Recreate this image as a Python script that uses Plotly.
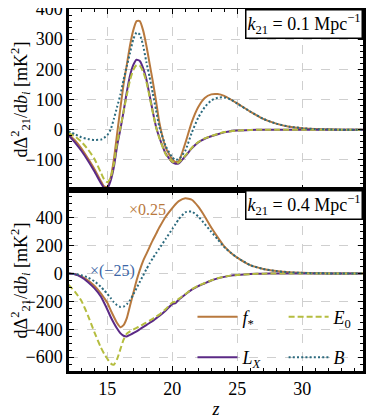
import plotly.graph_objects as go
from plotly.subplots import make_subplots

# redshift grid shared by every curve
z = [12, 12.5, 13, 13.5, 14, 14.5, 14.75, 15, 15.25, 15.5, 15.75, 16, 16.25, 16.5, 16.75,
     17, 17.25, 17.5, 17.75, 18, 18.25, 18.5, 18.75, 19, 19.5, 20, 20.25, 20.5, 21, 21.5,
     22, 22.5, 23, 23.5, 24, 24.5, 25, 26, 27, 28, 29, 30, 31, 32, 33, 34, 35]

# k21 = 0.1 Mpc^-1
fstar_k01 = [-14, -35, -62, -95, -130, -170, -188, -190, -160, -100, -15, 70, 150, 215, 280,
             330, 360, 360, 330, 280, 220, 160, 95, 25, -60, -98, -107, -105, -45, 25,
             75, 105, 117, 118, 112, 100, 87, 60, 36, 20, 10, 5, 2, 1, 0, 0, 0]
lx_k01 = [-18, -42, -70, -102, -138, -177, -193, -195, -170, -125, -55, 0, 60, 125, 180,
          215, 232, 228, 205, 168, 115, 60, 10, -25, -80, -108, -113, -112, -88, -62,
          -42, -30, -22, -15, -9, -5, -3, -1, 0, 0, 0, 0, 0, 0, 0, 0, 0]
e0_k01 = [-10, -22, -40, -65, -96, -142, -165, -174, -160, -115, -45, 5, 60, 115, 165,
          198, 214, 212, 193, 160, 110, 57, 8, -27, -82, -106, -110, -109, -86, -60,
          -41, -29, -21, -14, -8, -5, -3, -1, 0, 0, 0, 0, 0, 0, 0, 0, 0]
b_k01 = [-5, -15, -25, -31, -34, -33, -27, -18, 0, 35, 75, 115, 165, 210, 255,
         300, 322, 315, 280, 225, 175, 120, 65, 10, -55, -92, -100, -98, -70, -10,
         40, 75, 97, 106, 107, 100, 86, 60, 36, 20, 10, 5, 2, 1, 0, 0, 0]

# k21 = 0.4 Mpc^-1 (f_* scaled by 0.25, B scaled by -25)
fstar_k04 = [0, -5, -20, -48, -88, -142, -175, -210, -262, -310, -355, -385, -370, -320, -230,
             -140, -50, 25, 90, 140, 190, 240, 285, 330, 410, 470, 498, 520, 540, 530,
             480, 410, 330, 260, 195, 150, 114, 60, 33, 18, 9, 5, 2, 1, 0, 0, 0]
lx_k04 = [0, -5, -25, -60, -105, -165, -210, -258, -310, -355, -395, -428, -447, -452, -440,
          -428, -415, -400, -385, -370, -355, -340, -322, -305, -265, -220, -212, -188, -150, -115,
          -90, -70, -50, -35, -24, -15, -10, -4, -1, 0, 0, 0, 0, 0, 0, 0, 0]
e0_k04 = [-80, -130, -195, -300, -420, -530, -575, -612, -645, -655, -615, -545, -475, -432, -415,
          -402, -390, -378, -365, -352, -338, -325, -310, -295, -255, -208, -202, -182, -148, -113,
          -88, -68, -49, -34, -23, -15, -10, -4, -1, 0, 0, 0, 0, 0, 0, 0, 0]
b_k04 = [0, -3, -12, -28, -55, -95, -120, -145, -175, -205, -228, -240, -238, -220, -190,
         -150, -105, -60, -15, 30, 72, 110, 145, 180, 250, 320, 355, 390, 440, 445,
         410, 355, 300, 245, 190, 150, 114, 60, 33, 18, 9, 5, 2, 1, 0, 0, 0]

ticks_top = [-100, 0, 100, 200, 300, 400]
ticks_bot = [-600, -400, -200, 0, 200, 400]
ticks_z = [15, 20, 25, 30]

FONT = 'Liberation Serif'
BROWN = '#b8793e'
PURPLE = '#5b2a86'
OLIVE = '#b5bd3f'
TEAL = '#2b6a7e'

series = [
    ('<i>f</i><sub>*</sub>', fstar_k01, fstar_k04, BROWN, 'solid', 'legend', 'g1'),
    ('<i>L</i><sub><i>X</i></sub>', lx_k01, lx_k04, PURPLE, 'solid', 'legend', 'g2'),
    ('<i>E</i><sub>0</sub>', e0_k01, e0_k04, OLIVE, '6px,3px', 'legend2', 'g1'),
    ('<i>B</i>', b_k01, b_k04, TEAL, '2px,2.2px', 'legend2', 'g2'),
]

fig = make_subplots(rows=2, cols=1, shared_xaxes=True, vertical_spacing=0)

for name, top, bot, color, dash, leg, grp in series:
    fig.add_trace(go.Scatter(x=z, y=top, mode='lines', showlegend=False,
                             line=dict(color=color, width=2, dash=dash, shape='spline', smoothing=0.5)),
                  row=1, col=1)
    fig.add_trace(go.Scatter(x=z, y=bot, mode='lines', name=name, legend=leg, legendgroup=grp,
                             line=dict(color=color, width=2, dash=dash, shape='spline', smoothing=0.5)),
                  row=2, col=1)

axis_style = dict(
    showline=True, linewidth=2.5, linecolor='black', mirror='allticks',
    ticks='inside', ticklen=5, tickwidth=1, tickcolor='black',
    showgrid=True, gridcolor='#cfcfcf', griddash='dash', gridwidth=1,
    zeroline=False, ticklabeloverflow='allow', automargin=False,
    tickfont=dict(family=FONT, size=18, color='black'),
)

fig.update_xaxes(**axis_style, range=[12.05, 34.68], tickvals=ticks_z,
                 minor=dict(ticks='inside', ticklen=3, dtick=1, tick0=0, tickcolor='black', showgrid=False))
fig.update_xaxes(showticklabels=False, row=1, col=1)
fig.update_xaxes(title=dict(text='<i>z</i>', font=dict(family=FONT, size=18), standoff=6), row=2, col=1)

ytitle = 'd\u0394<sup>2</sup><sub>21</sub>/d<i>b<sub>i</sub></i> [mK<sup>2</sup>]'
fig.update_yaxes(**axis_style)
fig.update_yaxes(range=[-200, 400], tickvals=ticks_top,
                 minor=dict(ticks='inside', ticklen=3, dtick=20, tickcolor='black', showgrid=False),
                 title=dict(text=ytitle, font=dict(family=FONT, size=18), standoff=2), row=1, col=1)
fig.update_yaxes(range=[-700, 600], tickvals=ticks_bot,
                 minor=dict(ticks='inside', ticklen=3, dtick=50, tickcolor='black', showgrid=False),
                 title=dict(text=ytitle, font=dict(family=FONT, size=18), standoff=2), row=2, col=1)

box = dict(showarrow=False, xanchor='right', yanchor='top', x=1, y=1,
           bgcolor='white', bordercolor='black', borderwidth=1.5, borderpad=1,
           font=dict(family=FONT, size=18, color='black'))
fig.add_annotation(text='<i>k</i><sub>21</sub> = 0.1 Mpc<sup>\u22121</sup>',
                   xref='x domain', yref='y domain', **box)
fig.add_annotation(text='<i>k</i><sub>21</sub> = 0.4 Mpc<sup>\u22121</sup>',
                   xref='x2 domain', yref='y2 domain', **box)
fig.add_annotation(text='\u00d70.25', x=18.1, y=460, xref='x2', yref='y2', showarrow=False,
                   font=dict(family=FONT, size=16, color=BROWN))
fig.add_annotation(text='\u00d7(\u221225)', x=15.4, y=18, xref='x2', yref='y2', showarrow=False,
                   font=dict(family=FONT, size=16, color='#3c66a6'))

leg_style = dict(bgcolor='rgba(0,0,0,0)', borderwidth=0, orientation='v', itemwidth=40,
                 tracegroupgap=14, yanchor='top', xanchor='left',
                 font=dict(family=FONT, size=18, color='black'))
# the page puts the figure 8 px in from the top-left, so the size and margins allow for that
fig.update_layout(
    width=374, height=411,
    margin=dict(l=61, r=19, t=1, b=48, autoexpand=False),
    plot_bgcolor='white', paper_bgcolor='white',
    font=dict(family=FONT, color='black'),
    legend=dict(x=0.42, y=0.2, **leg_style),
    legend2=dict(x=0.73, y=0.2, **leg_style),
)

fig.write_html('out.html')
